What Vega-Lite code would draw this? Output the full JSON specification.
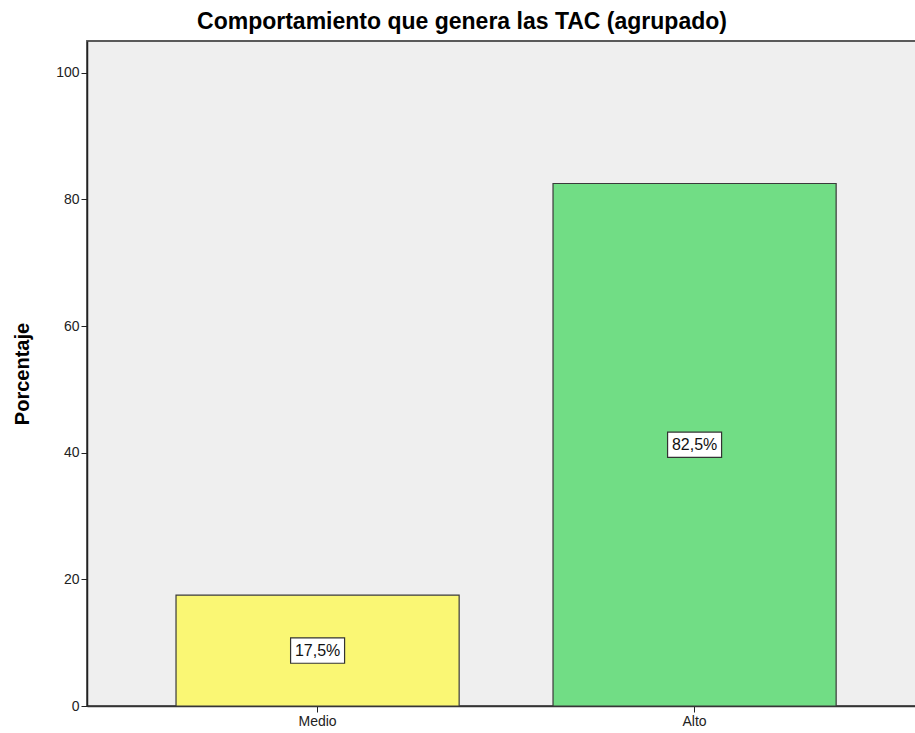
{
  "$schema": "https://vega.github.io/schema/vega-lite/v6.json",
  "autosize": "none",
  "width": 834,
  "height": 665,
  "padding": {"left": 87, "top": 41, "right": 0, "bottom": 27},
  "background": "white",
  "config": {
    "font": "Liberation Sans",
    "view": {"fill": "#EFEFEF", "stroke": "#5a5a5a", "strokeWidth": 1.8}
  },
  "title": {
    "text": "Comportamiento que genera las TAC (agrupado)",
    "font": "Liberation Sans",
    "fontSize": 23,
    "fontWeight": "bold",
    "color": "#000000",
    "anchor": "middle",
    "dx": -42,
    "offset": 7
  },
  "data": {
    "values": [
      {"nivel": "Medio", "porcentaje": 17.5, "mitad": 8.75, "label": "17,5%"},
      {"nivel": "Alto", "porcentaje": 82.5, "mitad": 41.25, "label": "82,5%"}
    ]
  },
  "encoding": {
    "x": {
      "field": "nivel",
      "type": "nominal",
      "sort": ["Medio", "Alto"],
      "scale": {"paddingInner": 0.249, "paddingOuter": 0.2306, "align": 0.512},
      "axis": {
        "title": null,
        "labelAngle": 0,
        "labelFontSize": 14,
        "labelColor": "#222222",
        "tickSize": 6,
        "tickColor": "#222222",
        "labelPadding": 2,
        "domainColor": "#333333",
        "domainWidth": 1.5
      }
    }
  },
  "layer": [
    {
      "mark": {"type": "bar", "stroke": "#3a3a3a", "strokeWidth": 1.2},
      "encoding": {
        "y": {
          "field": "porcentaje",
          "type": "quantitative",
          "scale": {"domain": [0, 105], "nice": false},
          "axis": {
            "title": "Porcentaje",
            "titleFontSize": 20,
            "titleFontWeight": "bold",
            "titleColor": "#000000",
            "titleBaseline": "alphabetic",
            "titleX": -59,
            "values": [0, 20, 40, 60, 80, 100],
            "grid": false,
            "labelFontSize": 14,
            "labelColor": "#222222",
            "tickSize": 6,
            "tickColor": "#222222",
            "labelPadding": 2,
            "domainColor": "#222222",
            "domainWidth": 1.5
          }
        },
        "color": {
          "field": "nivel",
          "type": "nominal",
          "scale": {"domain": ["Medio", "Alto"], "range": ["#FAF774", "#71DD85"]},
          "legend": null
        }
      }
    },
    {
      "mark": {
        "type": "point",
        "shape": "M-1,-0.47H1V0.47H-1Z",
        "filled": true,
        "fill": "white",
        "stroke": "#333333",
        "strokeWidth": 1.2,
        "opacity": 1,
        "size": 2916
      },
      "encoding": {
        "y": {"field": "mitad", "type": "quantitative", "scale": {"domain": [0, 105], "nice": false}}
      }
    },
    {
      "mark": {"type": "text", "fontSize": 16, "color": "#111111", "baseline": "middle", "align": "center"},
      "encoding": {
        "y": {"field": "mitad", "type": "quantitative", "scale": {"domain": [0, 105], "nice": false}},
        "text": {"field": "label"}
      }
    }
  ]
}
